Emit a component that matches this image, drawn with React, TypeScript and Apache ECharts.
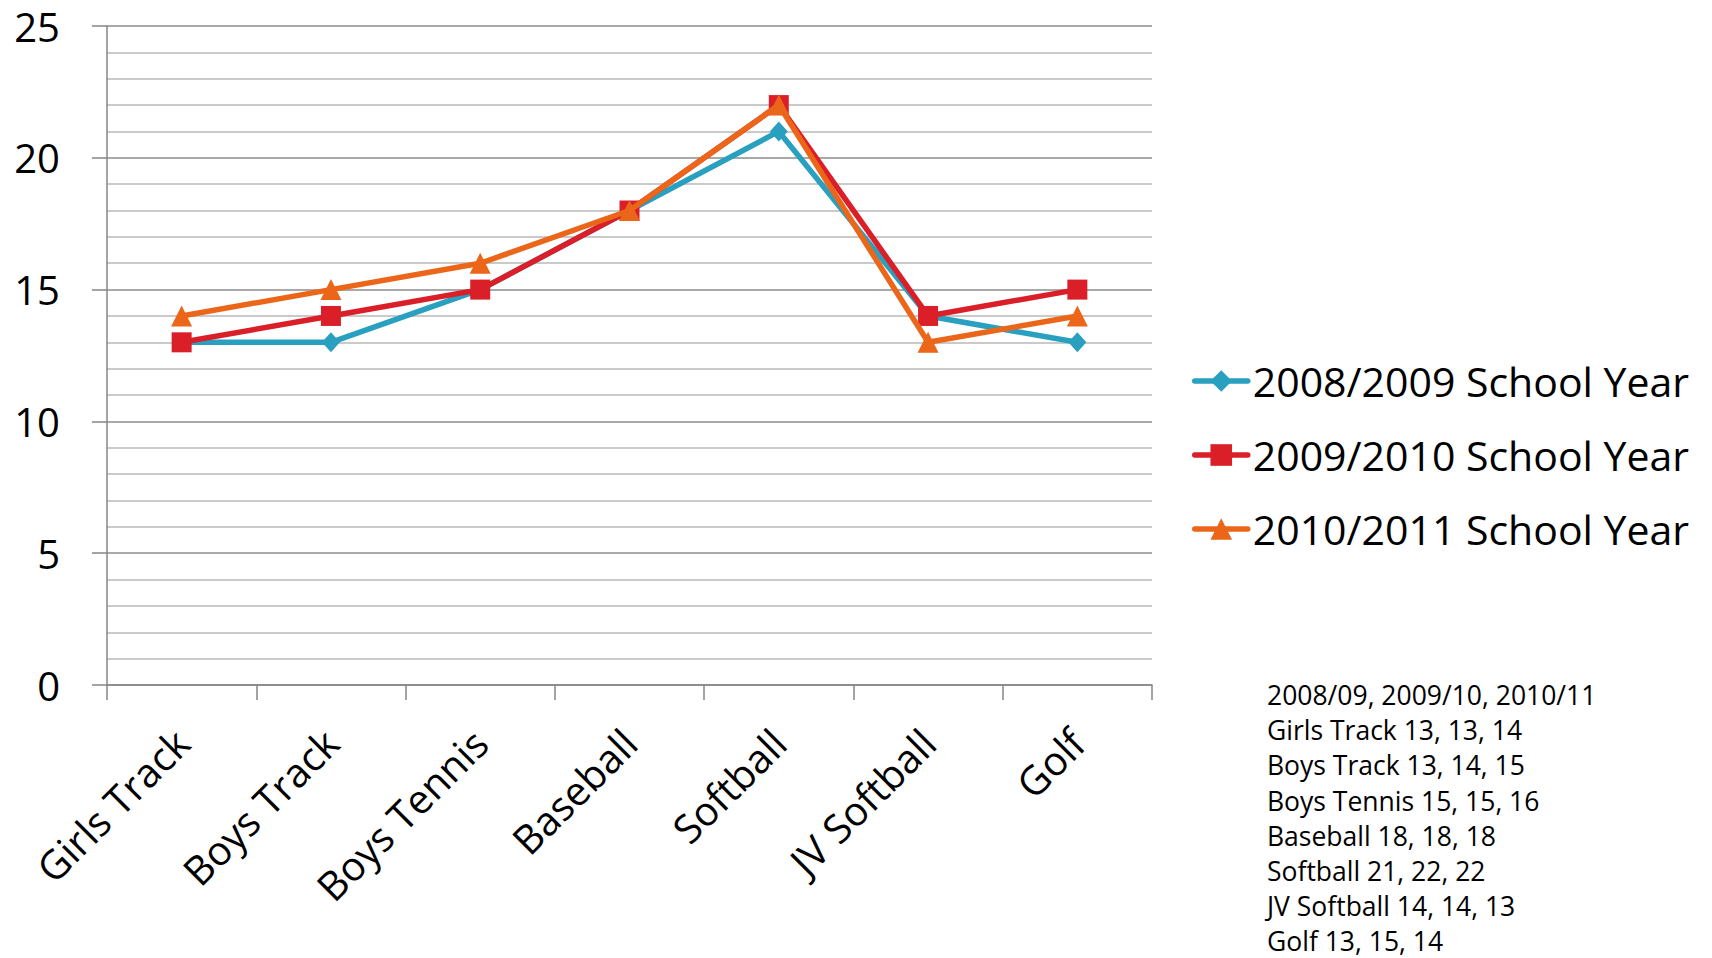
import React, { useEffect, useRef } from 'react';
import * as echarts from 'echarts';

const categories = ['Girls Track', 'Boys Track', 'Boys Tennis', 'Baseball', 'Softball', 'JV Softball', 'Golf'];
const seriesNames = ['2008/2009 School Year', '2009/2010 School Year', '2010/2011 School Year'];
const shortYears = ['2008/09', '2009/10', '2010/11'];
const values0809 = [13, 13, 15, 18, 21, 14, 13];
const values0910 = [13, 14, 15, 18, 22, 14, 15];
const values1011 = [14, 15, 16, 18, 22, 13, 14];
const yTicks = [0, 5, 10, 15, 20, 25];

const seriesValues = [values0809, values0910, values1011];
const seriesColors = ['#2AA0C0', '#DA1F29', '#EB6619'];
const seriesSymbols = ['diamond', 'rect', 'triangle'];
const seriesSymbolSizes = [[18, 20], 20, 21];

const FONT = '"Open Sans", sans-serif';

export default function App() {
  const ref = useRef<HTMLDivElement>(null);
  useEffect(() => {
    if (!ref.current) return;
    const chart = echarts.init(ref.current, null, { renderer: 'svg' });
    const noteLines = [shortYears.join(', ')].concat(
      categories.map((c, i) => `${c} ${seriesValues.map((s) => s[i]).join(', ')}`)
    );
    const axisGray = '#868686';
    chart.setOption({
      animation: false,
      backgroundColor: '#ffffff',
      grid: { left: 107, top: 26, right: 560, bottom: 273, containLabel: false },
      legend: {
        orient: 'vertical',
        left: 1187,
        top: 351,
        itemWidth: 53,
        itemHeight: 27,
        itemGap: 24,
        data: seriesNames,
        lineStyle: { width: 5.5 },
        textStyle: { fontSize: 41, fontFamily: FONT, color: '#000', lineHeight: 50 },
      },
      xAxis: {
        type: 'category',
        data: categories,
        boundaryGap: true,
        axisLine: { show: true, lineStyle: { color: axisGray, width: 1.5 } },
        axisTick: { show: true, length: 15, inside: false, lineStyle: { color: axisGray, width: 1.5 } },
        axisLabel: { interval: 0, rotate: 45, fontSize: 40, fontFamily: FONT, color: '#000', margin: 51 },
        splitLine: { show: false },
      },
      yAxis: {
        type: 'value',
        min: yTicks[0],
        max: yTicks[yTicks.length - 1],
        interval: yTicks[1] - yTicks[0],
        axisLine: { show: true, lineStyle: { color: axisGray, width: 1.5 } },
        axisTick: { show: true, length: 15, lineStyle: { color: axisGray, width: 1.5 } },
        axisLabel: { fontSize: 40, fontFamily: FONT, color: '#000', margin: 47 },
        splitLine: { show: true, lineStyle: { color: '#8c8c8c', width: 1.5 } },
        minorTick: { show: false, splitNumber: 5 },
        minorSplitLine: { show: true, lineStyle: { color: '#b8b8b8', width: 1.5 } },
      },
      series: seriesNames.map((name, i) => ({
        name,
        type: 'line',
        data: seriesValues[i],
        symbol: seriesSymbols[i],
        symbolSize: seriesSymbolSizes[i],
        showAllSymbol: true,
        lineStyle: { width: 5.5, color: seriesColors[i], cap: 'round' },
        itemStyle: { color: seriesColors[i] },
        emphasis: { disabled: true },
        z: 2 + i,
      })),
      graphic: noteLines.map((line, i) => ({
        type: 'text',
        x: 1267,
        y: 695 + i * 35.2,
        style: {
          text: line,
          fontSize: 26.5,
          lineHeight: 27,
          fontFamily: FONT,
          fill: '#000',
          verticalAlign: 'middle',
        },
      })),
    });
    return () => chart.dispose();
  }, []);
  return <div ref={ref} style={{ position: 'fixed', left: 0, top: 0, width: 1712, height: 958 }} />;
}
